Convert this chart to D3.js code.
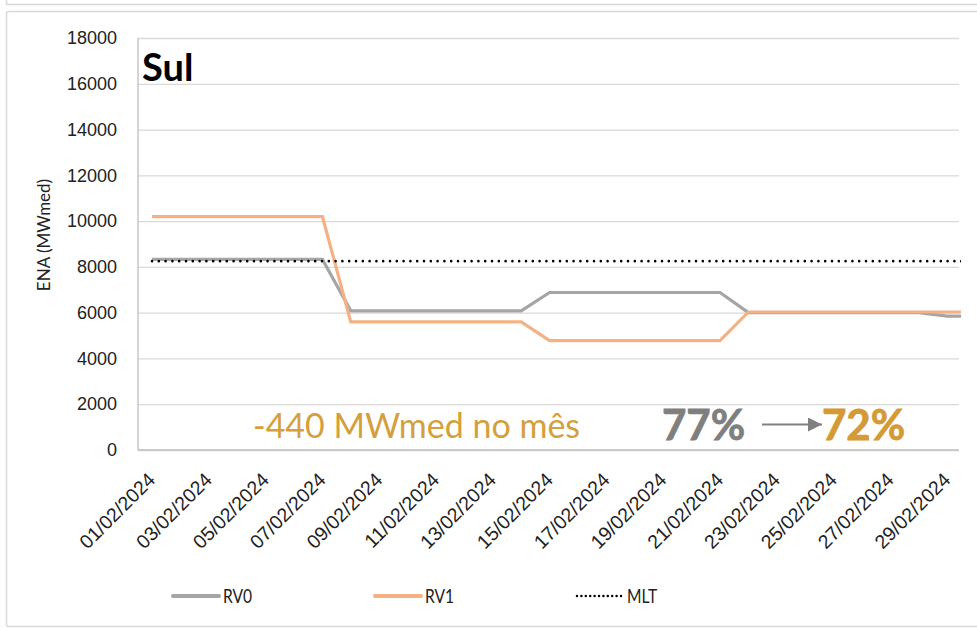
<!DOCTYPE html>
<html>
<head>
<meta charset="utf-8">
<script src="https://cdn.jsdelivr.net/npm/d3@7"></script>
<style>
  body { margin: 0; background: #fff; }
  svg { display: block; font-family: Lato, "Open Sans", sans-serif; }
</style>
</head>
<body>
<svg id="chart"></svg>
<script>
// days of the month (the last point runs past the visible plot edge)
const dates = [
  "01/02/2024", "02/02/2024", "03/02/2024", "04/02/2024", "05/02/2024",
  "06/02/2024", "07/02/2024", "08/02/2024", "09/02/2024", "10/02/2024",
  "11/02/2024", "12/02/2024", "13/02/2024", "14/02/2024", "15/02/2024",
  "16/02/2024", "17/02/2024", "18/02/2024", "19/02/2024", "20/02/2024",
  "21/02/2024", "22/02/2024", "23/02/2024", "24/02/2024", "25/02/2024",
  "26/02/2024", "27/02/2024", "28/02/2024", "29/02/2024", "01/03/2024"
];

const rv0 = [
  8330, 8330, 8330, 8330, 8330, 8330, 8330,
  6080, 6080, 6080, 6080, 6080, 6080, 6080,
  6880, 6880, 6880, 6880, 6880, 6880, 6880,
  6000, 6000, 6000, 6000, 6000, 6000, 6000,
  5850, 5850
];

const rv1 = [
  10200, 10200, 10200, 10200, 10200, 10200, 10200,
  5600, 5600, 5600, 5600, 5600, 5600, 5600,
  4780, 4780, 4780, 4780, 4780, 4780, 4780,
  6030, 6030, 6030, 6030, 6030, 6030, 6030,
  6030, 6030
];

const mlt = [
  8250, 8250, 8250, 8250, 8250, 8250, 8250, 8250, 8250, 8250,
  8250, 8250, 8250, 8250, 8250, 8250, 8250, 8250, 8250, 8250,
  8250, 8250, 8250, 8250, 8250, 8250, 8250, 8250, 8250, 8250
];

const yTicks = [0, 2000, 4000, 6000, 8000, 10000, 12000, 14000, 16000, 18000];

const seriesNames = ["RV0", "RV1", "MLT"];

/* layout */
let width = 977;
let height = 628;
let plot = { left: 138, right: 959, top: 38, bottom: 450 };
let step = 28.4;

let svg = d3.select("svg#chart")
  .attr("width", width)
  .attr("height", height);

/* chart frames (bottom of the box above, and this chart's box) */
svg.append("path")
  .attr("d", "M6.5,0 V4.5 H977")
  .attr("fill", "none")
  .attr("stroke", "#d9d9d9")
  .attr("stroke-width", 1.5);
svg.append("rect")
  .attr("x", 6.5).attr("y", 11.5)
  .attr("width", 990).attr("height", 615)
  .attr("rx", 2)
  .attr("fill", "none")
  .attr("stroke", "#d9d9d9")
  .attr("stroke-width", 1.5);

let x = d3.scalePoint()
  .domain(dates)
  .range([plot.left + 14, plot.left + 14 + step * (dates.length - 1)]);

let y = d3.scaleLinear()
  .domain([0, 18000])
  .range([plot.bottom, plot.top]);

/* y axis with gridlines */
let yAxis = d3.axisLeft(y)
  .tickValues(yTicks)
  .tickSize(-(plot.right - plot.left))
  .tickPadding(21)
  .tickFormat(d3.format("d"));

let yAxisG = svg.append("g")
  .attr("transform", "translate(" + plot.left + ",0)")
  .call(yAxis);
yAxisG.select("path.domain").remove();
yAxisG.selectAll(".tick line")
  .attr("stroke", "#d9d9d9")
  .attr("stroke-width", 1.3);
yAxisG.selectAll(".tick text")
  .attr("fill", "#222")
  .style("font-size", "18px");

/* left and bottom edges */
svg.append("line")
  .attr("x1", plot.left).attr("x2", plot.left)
  .attr("y1", plot.top).attr("y2", plot.bottom)
  .attr("stroke", "#bfbfbf").attr("stroke-width", 1.3);
svg.append("line")
  .attr("x1", plot.left).attr("x2", plot.right)
  .attr("y1", plot.bottom).attr("y2", plot.bottom)
  .attr("stroke", "#bfbfbf").attr("stroke-width", 1.5);

/* x axis: every other day, rotated */
let xAxis = d3.axisBottom(x)
  .tickValues(dates.filter((d, i) => i % 2 == 0 && i < 29))
  .tickSize(0);

let xAxisG = svg.append("g")
  .attr("transform", "translate(0," + plot.bottom + ")")
  .call(xAxis);
xAxisG.select("path.domain").remove();
xAxisG.selectAll(".tick text")
  .attr("fill", "#222")
  .style("font-size", "19.5px")
  .attr("y", 0)
  .attr("dy", 0)
  .attr("text-anchor", "end")
  .attr("transform", "translate(4,31) rotate(-45)");

/* axis title */
svg.append("text")
  .attr("transform", "translate(50,235) rotate(-90)")
  .attr("text-anchor", "middle")
  .attr("fill", "#222")
  .style("font-size", "17px")
  .text("ENA (MWmed)");

/* lines */
svg.append("clipPath").attr("id", "plotClip")
  .append("rect")
  .attr("x", 0).attr("y", 0)
  .attr("width", plot.right + 2).attr("height", height);

let line = d3.line()
  .x((d, i) => x(dates[i]))
  .y(d => y(d));

let lineG = svg.append("g").attr("clip-path", "url(#plotClip)");

lineG.append("path")
  .datum(rv0)
  .attr("d", line)
  .attr("fill", "none")
  .attr("stroke", "#a5a5a5")
  .attr("stroke-width", 3.2);

lineG.append("path")
  .datum(rv1)
  .attr("d", line)
  .attr("fill", "none")
  .attr("stroke", "#f4b183")
  .attr("stroke-width", 3.2);

lineG.append("path")
  .datum(mlt)
  .attr("d", line)
  .attr("fill", "none")
  .attr("stroke", "#000")
  .attr("stroke-width", 2.6)
  .attr("stroke-linecap", "round")
  .attr("stroke-dasharray", "0,6.8");

/* annotations */
svg.append("text")
  .attr("x", plot.left + 4).attr("y", 81)
  .attr("fill", "#000")
  .style("font-size", "38px")
  .style("font-weight", "bold")
  .text("Sul");

svg.append("text")
  .attr("x", 253).attr("y", 438)
  .attr("fill", "#d4a03e")
  .style("font-size", "34px")
  .text("-440 MWmed no mês");

svg.append("text")
  .attr("x", 662).attr("y", 440)
  .attr("fill", "#7f7f7f")
  .attr("stroke", "#7f7f7f")
  .attr("stroke-width", 0.8)
  .style("font-size", "42px")
  .style("font-weight", "bold")
  .text("77%");

svg.append("defs").append("marker")
  .attr("id", "arrowHead")
  .attr("viewBox", "0 0 10 10")
  .attr("refX", 10).attr("refY", 5)
  .attr("markerWidth", 8).attr("markerHeight", 7)
  .attr("markerUnits", "strokeWidth")
  .attr("orient", "auto")
  .append("path")
  .attr("d", "M0,0 L10,5 L0,10 Z")
  .attr("fill", "#808080");

svg.append("line")
  .attr("x1", 762).attr("x2", 822)
  .attr("y1", 424.5).attr("y2", 424.5)
  .attr("stroke", "#808080")
  .attr("stroke-width", 2)
  .attr("marker-end", "url(#arrowHead)");

svg.append("text")
  .attr("x", 822).attr("y", 440)
  .attr("fill", "#d39a35")
  .attr("stroke", "#d39a35")
  .attr("stroke-width", 0.8)
  .style("font-size", "42px")
  .style("font-weight", "bold")
  .text("72%");

/* legend */
let legendX = [173, 375, 577];
let legendStyles = [
  { stroke: "#a5a5a5", width: 4, dash: null, cap: "round" },
  { stroke: "#f4b183", width: 4, dash: null, cap: "round" },
  { stroke: "#000", width: 2.5, dash: "0,4.4", cap: "round" }
];

seriesNames.forEach((name, i) => {
  let item = svg.append("g")
    .attr("transform", "translate(" + legendX[i] + ",596)");
  item.append("line")
    .attr("x1", 0).attr("x2", 46)
    .attr("y1", 0).attr("y2", 0)
    .attr("stroke", legendStyles[i].stroke)
    .attr("stroke-width", legendStyles[i].width)
    .attr("stroke-linecap", legendStyles[i].cap)
    .attr("stroke-dasharray", legendStyles[i].dash);
  item.append("text")
    .attr("transform", "translate(50,7) scale(0.78,1)")
    .attr("fill", "#222")
    .style("font-size", "20px")
    .text(name);
});
</script>
</body>
</html>
